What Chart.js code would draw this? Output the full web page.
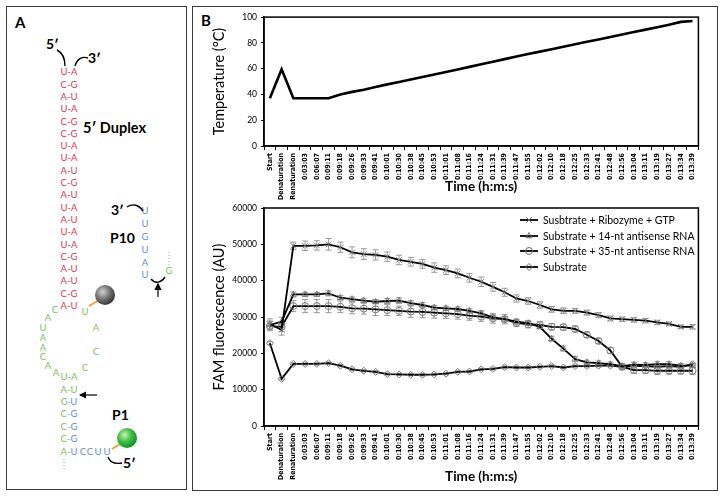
<!DOCTYPE html>
<html><head><meta charset="utf-8">
<script src="https://cdn.jsdelivr.net/npm/chart.js@4.4.0/dist/chart.umd.min.js"></script>
<style>
html,body{margin:0;padding:0;background:#fff;}
body{width:724px;height:497px;position:relative;overflow:hidden;font-family:Lato,sans-serif;}
.panel{position:absolute;border:1.5px solid #3a3a3a;box-sizing:border-box;}
#pa{left:6px;top:6px;width:181px;height:484px;}
#pb{left:192px;top:6px;width:526px;height:485px;}
.cw{position:absolute;}
#svgA{position:absolute;left:0;top:0;}
</style></head><body>
<div class="panel" id="pa"></div>
<div class="panel" id="pb"></div>
<svg id="svgA" width="190" height="497" font-family="Lato, sans-serif" xmlns="http://www.w3.org/2000/svg">
<defs>
<radialGradient id="gGray" cx="38%" cy="35%" r="70%"><stop offset="0" stop-color="#d0d0d0"/><stop offset="0.55" stop-color="#6e6e6e"/><stop offset="1" stop-color="#2e2e2e"/></radialGradient>
<radialGradient id="gGreen" cx="38%" cy="35%" r="70%"><stop offset="0" stop-color="#c4f5b0"/><stop offset="0.5" stop-color="#3dbf45"/><stop offset="1" stop-color="#12862a"/></radialGradient>
<marker id="ah" markerWidth="6" markerHeight="6" refX="5" refY="3" orient="auto"><path d="M0,0 L6,3 L0,6 z" fill="#000"/></marker>
</defs>
<g id="diagram"></g>
</svg>
<div style="position:absolute;left:201px;top:11px;font:bold 15px Lato,sans-serif">B</div>
<div class="cw" style="left:196px;top:8px;width:508px;height:194px"><canvas id="c1"></canvas></div>
<div class="cw" style="left:196px;top:198px;width:508px;height:290px"><canvas id="c2"></canvas></div>
<script>
// ---------- data ----------
const categories = ['Start','Denaturation','Renaturation','0:03:03','0:06:07','0:09:11','0:09:18','0:09:26','0:09:33','0:09:41','0:10:01','0:10:30','0:10:38','0:10:45','0:10:53','0:11:01','0:11:08','0:11:16','0:11:24','0:11:31','0:11:39','0:11:47','0:11:55','0:12:02','0:12:10','0:12:18','0:12:25','0:12:33','0:12:41','0:12:48','0:12:56','0:13:04','0:13:11','0:13:19','0:13:27','0:13:34','0:13:39'];
const temperature = [37,59.5,37,37,37,37,40,42,43.7,45.8,47.8,49.6,51.6,53.5,55.4,57.4,59.4,61.4,63.4,65.4,67.4,69.4,71.3,73.2,75.1,77,78.9,80.8,82.7,84.6,86.5,88.4,90.3,92.2,94,96.3,97];
const ribozymeGTP = [28000,26500,49600,49600,49700,50000,49200,47800,47300,47100,46600,45700,45200,44600,43600,42900,42000,40800,39700,38300,36800,35100,34400,33300,32100,31700,31700,31200,30500,29600,29400,29200,29000,28500,28100,27300,27300];
const ribozymeErr = [1500,1500,1000,1300,1300,1600,1400,1500,1500,1400,1300,1300,1200,1200,1300,1200,1200,1200,1300,1200,1100,1000,900,900,800,800,700,700,700,700,600,600,600,600,500,500,600];
const antisense14 = [27800,28700,36200,36200,36200,36500,35300,34900,34500,34200,34400,34500,33800,33300,32600,32400,32200,31700,31000,29900,29400,28700,28300,27300,24000,21300,18400,17500,17300,17000,16500,16900,16800,17000,17000,16600,16600];
const antisense14Err = [1100,1200,700,600,500,700,600,600,600,600,700,800,700,700,600,600,600,600,700,700,700,700,600,600,700,700,700,600,600,600,600,600,600,700,700,600,600];
const antisense35 = [27500,27300,33000,33000,33000,33000,32800,32400,32300,32100,31900,31700,31500,31400,31200,31000,30800,30400,30100,29600,29400,28400,28000,27800,27300,27200,26700,25100,23400,20800,16300,15400,15400,15200,15200,15200,15200];
const antisense35Err = [1300,1300,1500,1800,1800,1800,1600,1500,1500,1700,1500,1300,1600,1600,1500,1400,1400,1300,1300,1300,1300,1000,1000,900,900,800,800,700,700,800,800,900,900,1000,900,900,1000];
const substrate = [22800,13000,17100,17100,17100,17300,16600,15600,15200,14900,14300,14200,14100,14100,14200,14400,14900,15000,15600,15700,16200,16100,16100,16300,16500,16100,16500,16500,16600,16600,16300,16500,16500,16300,16500,16300,17000];
const substrateErr = [400,300,300,300,300,300,300,300,300,300,300,300,300,300,300,300,300,300,300,300,300,300,300,300,300,300,300,300,300,300,300,300,300,300,300,300,300];
const seriesNames = ['Susbtrate + Ribozyme + GTP','Substrate + 14-nt antisense RNA','Substrate + 35-nt antisense RNA','Substrate'];
const tempAxis = {min:0, max:100, step:10};
const famAxis = {min:0, max:60000, step:10000};

// ---------- panel A diagram ----------
const duplexPairs = ['U-A','C-G','A-U','U-A','C-G','C-G','U-A','U-A','A-U','C-G','A-U','U-A','A-U','U-A','U-A','C-G','A-U','A-U','C-G','A-U'];
const p10Column = ['U','U','G','U','A','U'];
const RED='#de3a4c', GREEN='#7cbf5c', BLUE='#5e90d2';
(function(){
  const g=document.getElementById('diagram');
  let s='';
  const t=(x,y,txt,fill,extra)=>`<text x="${x}" y="${y}" fill="${fill}" font-size="9.5" text-anchor="middle" ${extra||''}>${txt}</text>`;
  duplexPairs.forEach((p,i)=>{ s+=t(69,72+i*12.3+3.3,p,RED); });
  const py=[211,224,237,250,263,275];
  p10Column.forEach((c,i)=>{ s+=t(145,py[i]+3.3,c,BLUE); });
  s+=t(169,274,'G',GREEN);
  s+=`<line x1="169" y1="252" x2="169" y2="265" stroke="${GREEN}" stroke-width="1" stroke-dasharray="1,2"/>`;
  const loopL=[['C',55,310],['A',48,318],['U',43,328],['A',43,338],['A',43,348],['C',43,357],['A',48,366],['A',56,373]];
  const loopR=[['U',85,312],['A',96,328],['C',96,352],['C',85,368]];
  loopL.concat(loopR).forEach(a=>{ s+=t(a[1],a[2]+3.3,a[0],GREEN); });
  const stem=[['U','-','A',377,GREEN,GREEN],['A','-','U',390,GREEN,GREEN],['G','·','U',402,GREEN,BLUE],['C','-','G',414,GREEN,BLUE],['C','-','G',427,GREEN,BLUE],['C','-','G',439,GREEN,BLUE],['A','-','U',452,GREEN,BLUE]];
  stem.forEach(r=>{ s+=`<text x="69" y="${r[3]+3.3}" font-size="9.5" text-anchor="middle"><tspan fill="${r[4]}">${r[0]}${r[1]}</tspan><tspan fill="${r[5]}">${r[2]}</tspan></text>`; });
  [['C',83],['C',90],['U',98],['U',107]].forEach(a=>{ s+=t(a[1],455.3,a[0],BLUE); });
  s+=`<line x1="64" y1="459" x2="64" y2="471" stroke="${GREEN}" stroke-width="1" stroke-dasharray="1,2"/>`;
  s+=`<text x="15" y="28" font-size="15" font-weight="bold">A</text>`;
  s+=`<text x="46" y="49" font-size="14" font-weight="bold">5′</text>`;
  s+=`<text x="88" y="63" font-size="14" font-weight="bold">3′</text>`;
  s+=`<text x="83" y="133" font-size="14.5" font-weight="bold">5′ Duplex</text>`;
  s+=`<text x="111" y="215" font-size="14" font-weight="bold">3′</text>`;
  s+=`<text x="110" y="243" font-size="14" font-weight="bold">P10</text>`;
  s+=`<text x="112" y="420" font-size="14" font-weight="bold">P1</text>`;
  s+=`<text x="123" y="468" font-size="14" font-weight="bold">5′</text>`;
  const pth=d=>`<path d="${d}" stroke="#000" stroke-width="1.4" fill="none"/>`;
  s+=pth('M57,50 C63,53 65,58 65,66');
  s+=pth('M88,58 C82,56 77,59 75,66');
  s+=pth('M127,207 C133,203 139,205 143,211');
  s+=pth('M151,279 C155,284 161,283 165,277');
  s+=pth('M108,457 C110,463 116,464 122,463');
  s+=`<line x1="158" y1="297" x2="158" y2="284" stroke="#000" stroke-width="1.2" marker-end="url(#ah)"/>`;
  s+=`<line x1="97" y1="395" x2="80" y2="395" stroke="#000" stroke-width="1.2" marker-end="url(#ah)"/>`;
  s+=`<line x1="89" y1="306" x2="99" y2="300" stroke="#f0a030" stroke-width="2"/>`;
  s+=`<circle cx="105" cy="295" r="10" fill="url(#gGray)"/>`;
  s+=`<line x1="112" y1="449" x2="120" y2="444" stroke="#f0a030" stroke-width="2"/>`;
  s+=`<circle cx="127" cy="438" r="10" fill="url(#gGreen)"/>`;
  g.innerHTML=s;
})();

// ---------- charts ----------
const FONT="Lato, sans-serif";
const TICKFONT="'Liberation Sans Narrow', 'DejaVu Sans Condensed', Lato, sans-serif";
const framePlugin={id:'frame',afterDraw(chart){const a=chart.chartArea,c=chart.ctx;c.save();c.strokeStyle='#000';c.lineWidth=1.5;c.strokeRect(a.left,a.top,a.right-a.left,a.bottom-a.top);c.restore();}};
const errorBarPlugin={id:'errorBars',beforeDatasetsDraw(chart){
  const ctx=chart.ctx, ys=chart.scales.y;
  chart.data.datasets.forEach((ds,di)=>{
    if(!ds.errors) return;
    const meta=chart.getDatasetMeta(di);
    ctx.save(); ctx.strokeStyle='#9a9a9a'; ctx.lineWidth=1;
    meta.data.forEach((pt,i)=>{
      const e=ds.errors[i], v=ds.data[i];
      const y1=ys.getPixelForValue(v+e), y2=ys.getPixelForValue(v-e);
      ctx.beginPath(); ctx.moveTo(pt.x,y1); ctx.lineTo(pt.x,y2);
      ctx.moveTo(pt.x-3,y1); ctx.lineTo(pt.x+3,y1);
      ctx.moveTo(pt.x-3,y2); ctx.lineTo(pt.x+3,y2); ctx.stroke();
    });
    ctx.restore();
  });
}};
const legendPlugin={id:'lineLegend',afterDraw(chart){
  const a=chart.chartArea,ctx=chart.ctx;
  const ys=[12,28,43,59];
  chart.data.datasets.forEach((ds,i)=>{
    const y=a.top+ys[i], x1=a.left+256, x2=a.left+274;
    ctx.save();
    ctx.strokeStyle='#000';ctx.lineWidth=1.8;ctx.beginPath();ctx.moveTo(x1,y);ctx.lineTo(x2,y);ctx.stroke();
    ctx.strokeStyle='#6a6a6a';ctx.fillStyle='rgba(255,255,255,0)';ctx.lineWidth=1;
    Chart.helpers.drawPoint(ctx,{pointStyle:ds.pointStyle,radius:ds.pointRadius,borderWidth:1,rotation:0},(x1+x2)/2,y);
    ctx.fillStyle='#000';ctx.font='10.5px '+FONT;ctx.textBaseline='middle';ctx.textAlign='left';
    ctx.fillText(ds.label,a.left+279,y+0.5);
    ctx.restore();
  });
}};
function xScale(h,titlePadBottom){
  return {type:'category',offset:true,
    grid:{display:true,offset:true,drawOnChartArea:false,drawTicks:true,tickLength:4,color:'#000',tickColor:'#000',lineWidth:1},
    border:{display:true,color:'#000',width:1.5},
    ticks:{autoSkip:false,minRotation:90,maxRotation:90,padding:3,color:'#000',font:{family:TICKFONT,size:7,weight:'bold'}},
    title:{display:true,text:'Time (h:m:s)',color:'#000',font:{family:FONT,size:13.5,weight:'bold'},padding:{top:0,bottom:titlePadBottom}},
    afterFit(s){s.height=h;}
  };
}
function yScale(cfg,title){
  return {type:'linear',min:cfg.min,max:cfg.max,
    grid:{display:true,drawOnChartArea:false,drawTicks:true,tickLength:3,color:'#000',tickColor:'#000'},
    border:{display:true,color:'#000',width:1.5},
    ticks:{stepSize:cfg.step,padding:4,color:'#000',font:{family:FONT,size:8.5},callback:v=>String(v)},
    title:{display:true,text:title,color:'#000',font:{family:FONT,size:14.5},padding:{top:15,bottom:0}},
    afterFit(s){s.width=68;}
  };
}
new Chart(document.getElementById('c1'),{
  type:'line',
  data:{labels:categories,datasets:[{label:'Temperature',data:temperature,borderColor:'#000',borderWidth:2.6,pointRadius:0,tension:0,fill:false}]},
  options:{responsive:true,maintainAspectRatio:false,animation:false,
    layout:{padding:{top:8,right:5,left:0,bottom:0}},
    plugins:{legend:{display:false},tooltip:{enabled:false}},
    scales:{x:xScale(56,7),y:yScale(tempAxis,'Temperature (°C)')}},
  plugins:[framePlugin]
});
const styles=['crossRot','triangle','circle','rectRot'];
const seriesData=[ribozymeGTP,antisense14,antisense35,substrate];
const seriesErr=[ribozymeErr,antisense14Err,antisense35Err,substrateErr];
new Chart(document.getElementById('c2'),{
  type:'line',
  data:{labels:categories,datasets:seriesData.map((d,i)=>({
    label:seriesNames[i],data:d,errors:seriesErr[i],borderColor:'#000',borderWidth:1.8,tension:0,fill:false,
    pointStyle:styles[i],pointRadius:i===0?4:3.5,pointBorderColor:'#7a7a7a',pointBackgroundColor:'rgba(255,255,255,0)',pointBorderWidth:1
  }))},
  options:{responsive:true,maintainAspectRatio:false,animation:false,
    layout:{padding:{top:10,right:4,left:0,bottom:0}},
    plugins:{legend:{display:false},tooltip:{enabled:false}},
    scales:{x:xScale(62,3),y:yScale(famAxis,'FAM fluorescence (AU)')}},
  plugins:[errorBarPlugin,framePlugin,legendPlugin]
});
</script>
</body></html>
